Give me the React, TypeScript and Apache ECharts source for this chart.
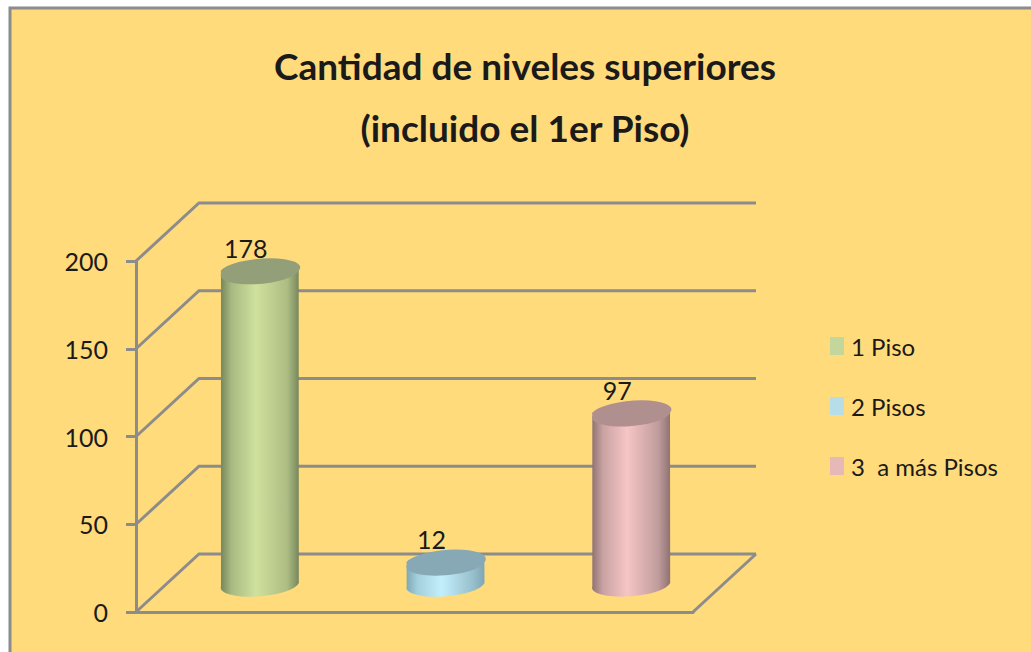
import React, { useEffect, useRef } from "react";
import * as echarts from "echarts";

const categories = ["1 Piso", "2 Pisos", "3  a más Pisos"];
const values = [178, 12, 97];
const yTicks = [0, 50, 100, 150, 200];
const titleLines = ["Cantidad de niveles superiores", "(incluido el 1er Piso)"];
const legendColors = ["#c3d69b", "#b7dde8", "#e6b9b8"];
const topColors = ["#939f78", "#87a8b5", "#b08f8f"];
const bodyStops = [
  ["#76865a", "#a9ba82", "#cfe19d", "#adbd84", "#78875c"],
  ["#7fa6b4", "#a3cfdc", "#c3effc", "#98bfcc", "#7fa6b4"],
  ["#8f7272", "#c9a2a2", "#f6c5c5", "#c09c9c", "#8f7272"],
];

const FONT = "Lato, 'Liberation Sans', sans-serif";
const INK = "#1a1a1a";
const GRID = "#8c8c8c";
const DEPTH_X = 63;
const DEPTH_Y = 58;
const RX = 39;
const RY = 11.5;
const TILT = 5;

function wallItem(params: any, api: any) {
  const value = api.value(1);
  const p = api.coord([0, value]);
  const cs = params.coordSys;
  const x0 = cs.x;
  const x1 = cs.x + cs.width;
  const y = p[1];
  const style = { stroke: GRID, lineWidth: 3, fill: "none" };
  const children: any[] = [
    {
      type: "polyline",
      shape: { points: [[x0, y], [x0 + DEPTH_X, y - DEPTH_Y], [x1 + DEPTH_X, y - DEPTH_Y]] },
      style,
    },
  ];
  if (value === 0) {
    children.push({
      type: "polyline",
      shape: { points: [[x1, y], [x1 + DEPTH_X, y - DEPTH_Y]] },
      style,
    });
  }
  return { type: "group", children };
}

function cylinderItem(seriesIndex: number) {
  return (_params: any, api: any) => {
    const idx = api.value(0);
    const val = api.value(1);
    const base = api.coord([idx, 0]);
    const top = api.coord([idx, val]);
    const cx = base[0] + DEPTH_X / 2 - 0.5;
    const by = base[1] - DEPTH_Y / 2;
    const ty = top[1] - DEPTH_Y / 2;
    const dx = RX * Math.cos((TILT * Math.PI) / 180);
    const dy = RX * Math.sin((TILT * Math.PI) / 180);
    const arc = `A ${RX} ${RY} ${-TILT}`;
    const body =
      `M ${cx - dx} ${ty + dy} L ${cx - dx} ${by + dy} ${arc} 0 0 ${cx + dx} ${by - dy} ` +
      `L ${cx + dx} ${ty - dy} Z`;
    const cap =
      `M ${cx - dx} ${ty + dy} ${arc} 0 0 ${cx + dx} ${ty - dy} ${arc} 0 0 ${cx - dx} ${ty + dy} Z`;
    const s = bodyStops[seriesIndex];
    return {
      type: "group",
      children: [
        {
          type: "path",
          shape: { pathData: body },
          style: {
            fill: new echarts.graphic.LinearGradient(0, 0, 1, 0, [
              { offset: 0, color: s[0] },
              { offset: 0.14, color: s[1] },
              { offset: 0.45, color: s[2] },
              { offset: 0.85, color: s[3] },
              { offset: 1, color: s[4] },
            ]),
          },
        },
        { type: "path", shape: { pathData: cap }, style: { fill: topColors[seriesIndex] } },
        {
          type: "text",
          style: {
            text: String(val),
            x: cx - 14,
            y: ty - 23,
            align: "center",
            verticalAlign: "middle",
            font: `25px ${FONT}`,
            fill: INK,
          },
        },
      ],
    };
  };
}

export default function App() {
  const ref = useRef<HTMLDivElement>(null);
  useEffect(() => {
    document.body.style.margin = "0";
    const chart = echarts.init(ref.current!, null, { renderer: "svg" });
    chart.setOption({
      animation: false,
      backgroundColor: "#ffffff",
      graphic: [
        {
          type: "rect",
          z: -10,
          silent: true,
          shape: { x: 10, y: 8, width: 1060, height: 680 },
          style: { fill: "#ffdb7b", stroke: "#8c8c8c", lineWidth: 3 },
        },
      ],
      title: {
        text: titleLines.join("\n"),
        left: 520,
        top: 29,
        textAlign: "center",
        textStyle: {
          fontFamily: FONT,
          fontWeight: "bold",
          fontSize: 37,
          lineHeight: 62,
          color: INK,
        },
      },
      legend: {
        orient: "vertical",
        left: 830,
        top: 334,
        padding: 0,
        icon: "rect",
        itemWidth: 14,
        itemHeight: 18,
        itemGap: 36,
        data: categories,
        textStyle: { fontFamily: FONT, fontSize: 24, lineHeight: 20, color: INK, padding: [0, 0, 0, 2] },
      },
      grid: { left: 136, top: 261, width: 557, height: 351 },
      xAxis: {
        type: "category",
        data: categories,
        axisLabel: { show: false },
        axisTick: { show: false },
        axisLine: { lineStyle: { color: GRID, width: 3 } },
      },
      yAxis: {
        type: "value",
        min: 0,
        max: 200,
        interval: 50,
        splitLine: { show: false },
        axisLine: { show: true, lineStyle: { color: GRID, width: 3 } },
        axisTick: { show: true, length: 10, lineStyle: { color: GRID, width: 3 } },
        axisLabel: { fontFamily: FONT, fontSize: 25, color: INK, margin: 28 },
      },
      series: [
        {
          type: "custom",
          name: "wall",
          silent: true,
          z: 1,
          clip: false,
          renderItem: wallItem,
          data: yTicks.map((t) => [0, t]),
          encode: { x: 0, y: 1 },
        },
        ...categories.map((name, i) => ({
          type: "custom",
          name,
          z: 2,
          clip: false,
          itemStyle: { color: legendColors[i] },
          renderItem: cylinderItem(i),
          data: [[i, values[i]]],
          encode: { x: 0, y: 1 },
        })),
      ],
    });
    return () => chart.dispose();
  }, []);
  return <div ref={ref} style={{ width: 1031, height: 652 }} />;
}
